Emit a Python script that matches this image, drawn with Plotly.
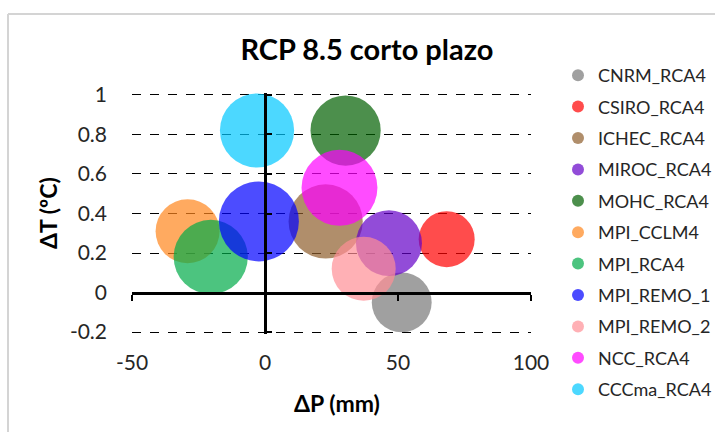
import math
import plotly.graph_objects as go

# ---- data ----
models = ["CNRM_RCA4", "CSIRO_RCA4", "ICHEC_RCA4", "MIROC_RCA4", "MOHC_RCA4",
          "MPI_CCLM4", "MPI_RCA4", "MPI_REMO_1", "MPI_REMO_2", "NCC_RCA4", "CCCma_RCA4"]
delta_p = [51.4, 68.3, 22.8, 46.6, 30.3, -29.1, -20.4, -2.3, 37.1, 28.0, -3.0]
delta_t = [-0.05, 0.27, 0.36, 0.25, 0.82, 0.31, 0.18, 0.36, 0.12, 0.53, 0.82]
bubble_value = [56, 49, 86, 68, 77, 64, 86, 100, 64, 90, 86]
x_ticks = [-50, 0, 50, 100]
x_tick_labels = ["-50", "0", "50", "100"]
y_ticks = [-0.2, 0, 0.2, 0.4, 0.6, 0.8, 1]
y_tick_labels = ["-0.2", "0", "0.2", "0.4", "0.6", "0.8", "1"]

colors = ["rgb(119,119,119)", "rgb(255,0,0)", "rgb(142,94,44)", "rgb(100,0,200)",
          "rgb(0,96,0)", "rgb(255,134,28)", "rgb(0,171,72)", "rgb(0,0,255)",
          "rgb(255,142,149)", "rgb(255,0,255)", "rgb(0,199,255)"]

FONT = "Lato"
MAX_D = 80  # px diameter of the largest bubble
PAD = 0.01  # small range padding so the edge gridlines are drawn

# plot area in pixels
L, R_EDGE, T, B = 132, 531, 93, 334
W, H = R_EDGE - L, B - T


def px_x(p):
    return (p - L) / W


def px_y(p):
    return (B - p) / H


fig = go.Figure()
for i, name in enumerate(models):
    d = MAX_D * math.sqrt(bubble_value[i] / max(bubble_value))
    fig.add_trace(go.Scatter(
        x=[delta_p[i]], y=[delta_t[i]], mode="markers", name=name,
        legendgroup=name, cliponaxis=False,
        marker=dict(size=d, color=colors[i], opacity=0.7, line=dict(width=0)),
        hoverinfo="name+x+y",
    ))

# invisible trace that carries the crossing axis lines
fig.add_trace(go.Scatter(x=[], y=[], xaxis="x2", yaxis="y2", showlegend=False))

XR = [x_ticks[0], x_ticks[-1]]
YR = [y_ticks[0] - PAD, y_ticks[-1] + PAD]

fig.update_layout(
    width=715, height=432,
    margin=dict(l=L, r=715 - R_EDGE, t=T, b=432 - B, autoexpand=False),
    paper_bgcolor="white", plot_bgcolor="white",
    font=dict(family=FONT, color="#262626"),
    showlegend=True,
    title=dict(text="<b>RCP 8.5 corto plazo</b>", x=px_x(367), xref="paper",
               xanchor="center", y=1 - 50 / 432, yref="container", yanchor="middle",
               font=dict(size=29, family=FONT, color="#000000")),
    xaxis=dict(range=XR, tickvals=x_ticks, ticktext=x_tick_labels, showgrid=False,
               zeroline=False, showline=False, ticks="",
               tickfont=dict(size=21, color="#262626"),
               ticklabelstandoff=14, fixedrange=True),
    yaxis=dict(range=YR, tickvals=y_ticks, ticktext=y_tick_labels, showgrid=True,
               gridcolor="#000000", griddash="dash", gridwidth=1, zeroline=False,
               showline=False, ticks="", tickfont=dict(size=21, color="#262626"),
               ticklabelstandoff=24, fixedrange=True),
    xaxis2=dict(range=XR, overlaying="x", anchor="free",
                position=(0 - YR[0]) / (YR[1] - YR[0]),
                showline=True, linecolor="#000000", linewidth=3,
                tickvals=x_ticks, ticks="outside", ticklen=6, tickwidth=2,
                tickcolor="#000000", showticklabels=False, showgrid=False,
                zeroline=False, fixedrange=True),
    yaxis2=dict(range=YR, overlaying="y", anchor="free",
                position=(0 - XR[0]) / (XR[1] - XR[0]),
                showline=True, linecolor="#000000", linewidth=3,
                tickvals=y_ticks, ticks="inside", ticklen=5, tickwidth=2,
                tickcolor="#000000", showticklabels=False, showgrid=False,
                zeroline=False, fixedrange=True),
    legend=dict(x=px_x(558), xanchor="left", yref="container", y=1 - 57 / 432,
                yanchor="top", maxheight=420,
                font=dict(size=18, family=FONT, color="#262626"),
                itemsizing="constant", tracegroupgap=5, bgcolor="rgba(0,0,0,0)"),
    annotations=[
        dict(text="<b>ΔT (ºC)</b>", xref="paper", yref="paper",
             x=px_x(48), y=px_y(213), showarrow=False, textangle=-90,
             xanchor="center", yanchor="middle",
             font=dict(size=23, family=FONT, color="#000000")),
        dict(text="<b>ΔP (mm)</b>", xref="paper", yref="paper",
             x=px_x(337), y=px_y(403), showarrow=False,
             xanchor="center", yanchor="middle",
             font=dict(size=23, family=FONT, color="#000000")),
    ],
    shapes=[
        dict(type="line", xref="paper", yref="paper", x0=px_x(8), x1=px_x(730),
             y0=px_y(14), y1=px_y(14), line=dict(color="#d4d4d4", width=2)),
        dict(type="line", xref="paper", yref="paper", x0=px_x(8), x1=px_x(8),
             y0=px_y(14), y1=px_y(440), line=dict(color="#d4d4d4", width=2)),
    ],
)

fig.write_html("out.html", config={"displayModeBar": False},
               post_script="document.body.style.margin='0';")
